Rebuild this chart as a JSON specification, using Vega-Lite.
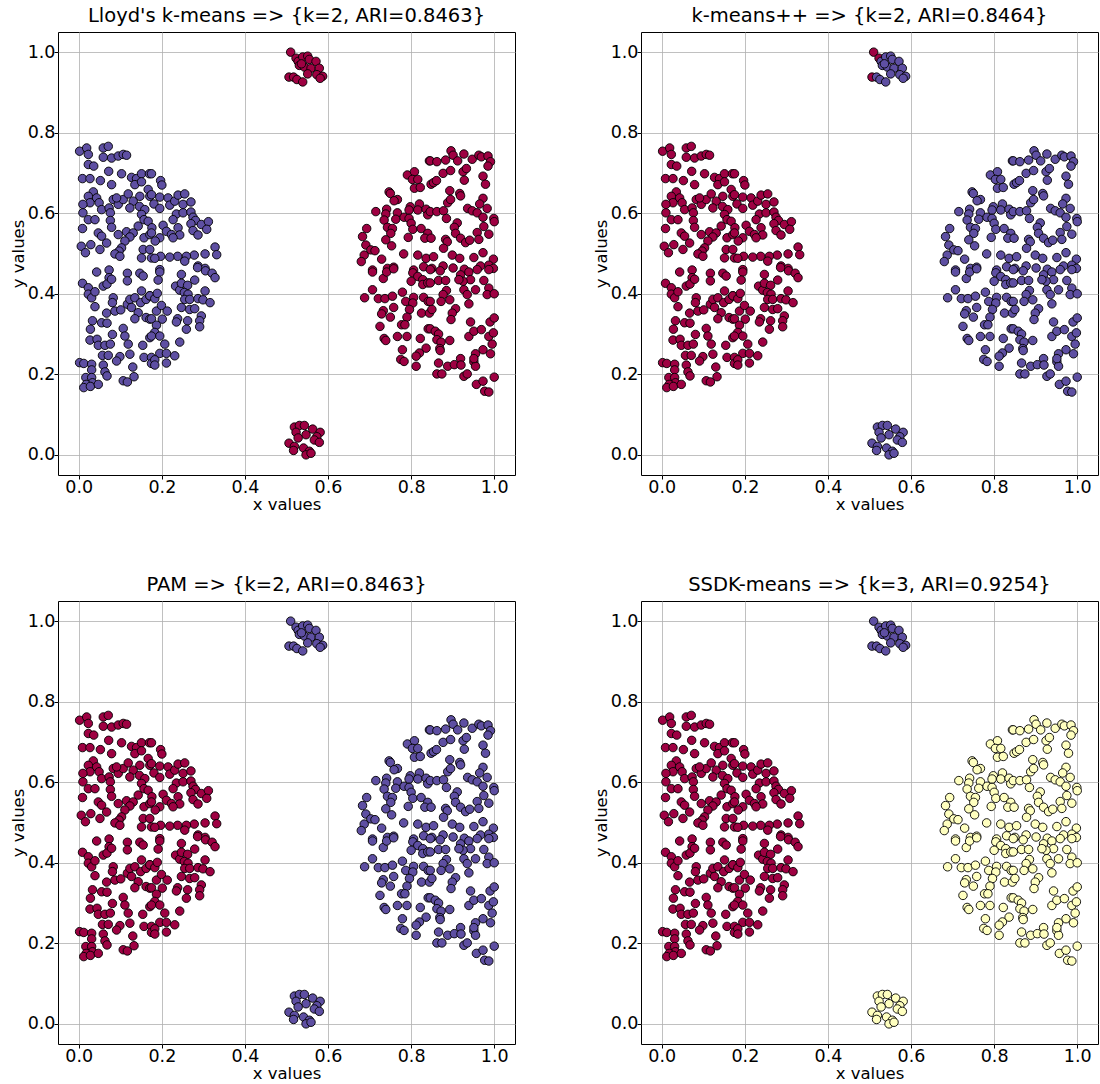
{
"$schema": "https://vega.github.io/schema/vega-lite/v6.json",
"background": "white",
"padding": {"left": 9, "top": 5, "right": 0, "bottom": 0},
"data": {"values": [
{"x":0.002,"y":0.754,"g":"L"},{"x":0.019,"y":0.762,"g":"L"},{"x":0.023,"y":0.746,"g":"L"},{"x":0.059,"y":0.762,"g":"L"},{"x":0.071,"y":0.766,"g":"L"},{"x":0.059,"y":0.739,"g":"L"},{"x":0.079,"y":0.737,"g":"L"},{"x":0.095,"y":0.742,"g":"L"},{"x":0.107,"y":0.746,"g":"L"},{"x":0.115,"y":0.744,"g":"L"},
{"x":0.023,"y":0.721,"g":"L"},{"x":0.036,"y":0.717,"g":"L"},{"x":0.009,"y":0.686,"g":"L"},{"x":0.027,"y":0.686,"g":"L"},{"x":0.052,"y":0.681,"g":"L"},{"x":0.072,"y":0.704,"g":"L"},{"x":0.079,"y":0.671,"g":"L"},{"x":0.103,"y":0.698,"g":"L"},{"x":0.127,"y":0.689,"g":"L"},{"x":0.139,"y":0.686,"g":"L"},
{"x":0.135,"y":0.671,"g":"L"},{"x":0.151,"y":0.698,"g":"L"},{"x":0.151,"y":0.678,"g":"L"},{"x":0.170,"y":0.698,"g":"L"},{"x":0.167,"y":0.659,"g":"L"},{"x":0.035,"y":0.653,"g":"L"},{"x":0.023,"y":0.642,"g":"L"},{"x":0.043,"y":0.638,"g":"L"},{"x":0.027,"y":0.626,"g":"L"},{"x":0.010,"y":0.622,"g":"L"},
{"x":0.049,"y":0.626,"g":"L"},{"x":0.055,"y":0.609,"g":"L"},{"x":0.073,"y":0.613,"g":"L"},{"x":0.083,"y":0.634,"g":"L"},{"x":0.095,"y":0.622,"g":"L"},{"x":0.107,"y":0.634,"g":"L"},{"x":0.119,"y":0.648,"g":"L"},{"x":0.131,"y":0.630,"g":"L"},{"x":0.123,"y":0.613,"g":"L"},{"x":0.091,"y":0.638,"g":"L"},
{"x":0.147,"y":0.642,"g":"L"},{"x":0.146,"y":0.617,"g":"L"},{"x":0.159,"y":0.609,"g":"L"},{"x":0.171,"y":0.642,"g":"L"},{"x":0.010,"y":0.601,"g":"L"},{"x":0.023,"y":0.584,"g":"L"},{"x":0.039,"y":0.584,"g":"L"},{"x":0.076,"y":0.601,"g":"L"},{"x":0.076,"y":0.582,"g":"L"},{"x":0.079,"y":0.565,"g":"L"},
{"x":0.151,"y":0.597,"g":"L"},{"x":0.157,"y":0.584,"g":"L"},{"x":0.167,"y":0.580,"g":"L"},{"x":0.009,"y":0.562,"g":"L"},{"x":0.047,"y":0.551,"g":"L"},{"x":0.055,"y":0.543,"g":"L"},{"x":0.095,"y":0.547,"g":"L"},{"x":0.115,"y":0.554,"g":"L"},{"x":0.143,"y":0.568,"g":"L"},{"x":0.131,"y":0.551,"g":"L"},
{"x":0.123,"y":0.541,"g":"L"},{"x":0.111,"y":0.531,"g":"L"},{"x":0.103,"y":0.514,"g":"L"},{"x":0.097,"y":0.506,"g":"L"},{"x":0.087,"y":0.499,"g":"L"},{"x":0.099,"y":0.493,"g":"L"},{"x":0.067,"y":0.526,"g":"L"},{"x":0.006,"y":0.518,"g":"L"},{"x":0.016,"y":0.502,"g":"L"},{"x":0.029,"y":0.522,"g":"L"},
{"x":0.051,"y":0.510,"g":"L"},{"x":0.157,"y":0.539,"g":"L"},{"x":0.171,"y":0.547,"g":"L"},{"x":0.155,"y":0.510,"g":"L"},{"x":0.171,"y":0.510,"g":"L"},{"x":0.151,"y":0.489,"g":"L"},{"x":0.175,"y":0.489,"g":"L"},
{"x":0.175,"y":0.698,"g":"L"},{"x":0.197,"y":0.681,"g":"L"},{"x":0.200,"y":0.670,"g":"L"},{"x":0.175,"y":0.646,"g":"L"},{"x":0.195,"y":0.640,"g":"L"},{"x":0.181,"y":0.623,"g":"L"},{"x":0.195,"y":0.612,"g":"L"},{"x":0.215,"y":0.638,"g":"L"},{"x":0.219,"y":0.620,"g":"L"},{"x":0.231,"y":0.630,"g":"L"},
{"x":0.239,"y":0.645,"g":"L"},{"x":0.255,"y":0.648,"g":"L"},{"x":0.251,"y":0.622,"g":"L"},{"x":0.270,"y":0.628,"g":"L"},{"x":0.235,"y":0.598,"g":"L"},{"x":0.251,"y":0.601,"g":"L"},{"x":0.270,"y":0.603,"g":"L"},{"x":0.275,"y":0.590,"g":"L"},{"x":0.281,"y":0.582,"g":"L"},{"x":0.227,"y":0.584,"g":"L"},
{"x":0.270,"y":0.574,"g":"L"},{"x":0.295,"y":0.572,"g":"L"},{"x":0.312,"y":0.579,"g":"L"},{"x":0.308,"y":0.560,"g":"L"},{"x":0.275,"y":0.557,"g":"L"},{"x":0.287,"y":0.546,"g":"L"},{"x":0.203,"y":0.570,"g":"L"},{"x":0.211,"y":0.555,"g":"L"},{"x":0.223,"y":0.547,"g":"L"},{"x":0.239,"y":0.564,"g":"L"},
{"x":0.243,"y":0.546,"g":"L"},{"x":0.227,"y":0.539,"g":"L"},{"x":0.176,"y":0.564,"g":"L"},{"x":0.175,"y":0.551,"g":"L"},{"x":0.195,"y":0.539,"g":"L"},{"x":0.184,"y":0.531,"g":"L"},{"x":0.328,"y":0.516,"g":"L"},{"x":0.332,"y":0.497,"g":"L"},{"x":0.304,"y":0.499,"g":"L"},{"x":0.278,"y":0.496,"g":"L"},
{"x":0.259,"y":0.493,"g":"L"},{"x":0.255,"y":0.481,"g":"L"},{"x":0.238,"y":0.493,"g":"L"},{"x":0.219,"y":0.491,"g":"L"},{"x":0.197,"y":0.493,"g":"L"},{"x":0.183,"y":0.488,"g":"L"},{"x":0.287,"y":0.469,"g":"L"},{"x":0.304,"y":0.463,"g":"L"},{"x":0.195,"y":0.460,"g":"L"},
{"x":0.043,"y":0.454,"g":"L"},{"x":0.073,"y":0.459,"g":"L"},{"x":0.073,"y":0.440,"g":"L"},{"x":0.117,"y":0.451,"g":"L"},{"x":0.117,"y":0.432,"g":"L"},{"x":0.147,"y":0.451,"g":"L"},{"x":0.155,"y":0.444,"g":"L"},{"x":0.009,"y":0.426,"g":"L"},{"x":0.023,"y":0.415,"g":"L"},{"x":0.023,"y":0.399,"g":"L"},
{"x":0.031,"y":0.390,"g":"L"},{"x":0.039,"y":0.405,"g":"L"},{"x":0.059,"y":0.419,"g":"L"},{"x":0.068,"y":0.424,"g":"L"},{"x":0.079,"y":0.436,"g":"L"},{"x":0.083,"y":0.390,"g":"L"},{"x":0.081,"y":0.378,"g":"L"},{"x":0.039,"y":0.368,"g":"L"},{"x":0.067,"y":0.352,"g":"L"},{"x":0.087,"y":0.357,"g":"L"},
{"x":0.101,"y":0.360,"g":"L"},{"x":0.117,"y":0.374,"g":"L"},{"x":0.123,"y":0.386,"g":"L"},{"x":0.135,"y":0.390,"g":"L"},{"x":0.151,"y":0.407,"g":"L"},{"x":0.149,"y":0.378,"g":"L"},{"x":0.162,"y":0.386,"g":"L"},{"x":0.171,"y":0.395,"g":"L"},{"x":0.127,"y":0.366,"g":"L"},{"x":0.143,"y":0.353,"g":"L"},
{"x":0.135,"y":0.338,"g":"L"},{"x":0.162,"y":0.341,"g":"L"},{"x":0.171,"y":0.337,"g":"L"},{"x":0.033,"y":0.333,"g":"L"},{"x":0.028,"y":0.312,"g":"L"},{"x":0.055,"y":0.328,"g":"L"},{"x":0.068,"y":0.327,"g":"L"},{"x":0.107,"y":0.314,"g":"L"},{"x":0.081,"y":0.299,"g":"L"},{"x":0.111,"y":0.295,"g":"L"},
{"x":0.027,"y":0.285,"g":"L"},{"x":0.044,"y":0.287,"g":"L"},{"x":0.047,"y":0.272,"g":"L"},{"x":0.063,"y":0.272,"g":"L"},{"x":0.076,"y":0.275,"g":"L"},{"x":0.119,"y":0.275,"g":"L"},{"x":0.154,"y":0.272,"g":"L"},{"x":0.171,"y":0.291,"g":"L"},{"x":0.057,"y":0.247,"g":"L"},{"x":0.071,"y":0.247,"g":"L"},
{"x":0.099,"y":0.244,"g":"L"},{"x":0.091,"y":0.233,"g":"L"},{"x":0.123,"y":0.250,"g":"L"},{"x":0.157,"y":0.242,"g":"L"},{"x":0.175,"y":0.242,"g":"L"},{"x":0.175,"y":0.227,"g":"L"},{"x":0.002,"y":0.229,"g":"L"},{"x":0.012,"y":0.227,"g":"L"},{"x":0.031,"y":0.225,"g":"L"},{"x":0.059,"y":0.223,"g":"L"},
{"x":0.130,"y":0.218,"g":"L"},{"x":0.063,"y":0.206,"g":"L"},{"x":0.068,"y":0.196,"g":"L"},{"x":0.031,"y":0.211,"g":"L"},{"x":0.017,"y":0.192,"g":"L"},{"x":0.031,"y":0.192,"g":"L"},{"x":0.033,"y":0.179,"g":"L"},{"x":0.018,"y":0.175,"g":"L"},{"x":0.012,"y":0.167,"g":"L"},{"x":0.028,"y":0.170,"g":"L"},
{"x":0.047,"y":0.175,"g":"L"},{"x":0.107,"y":0.184,"g":"L"},{"x":0.117,"y":0.181,"g":"L"},{"x":0.133,"y":0.194,"g":"L"},
{"x":0.195,"y":0.454,"g":"L"},{"x":0.191,"y":0.434,"g":"L"},{"x":0.247,"y":0.448,"g":"L"},{"x":0.286,"y":0.465,"g":"L"},{"x":0.305,"y":0.457,"g":"L"},{"x":0.321,"y":0.451,"g":"L"},{"x":0.328,"y":0.440,"g":"L"},{"x":0.279,"y":0.434,"g":"L"},{"x":0.233,"y":0.419,"g":"L"},{"x":0.243,"y":0.409,"g":"L"},
{"x":0.247,"y":0.426,"g":"L"},{"x":0.262,"y":0.421,"g":"L"},{"x":0.254,"y":0.403,"g":"L"},{"x":0.263,"y":0.399,"g":"L"},{"x":0.255,"y":0.386,"g":"L"},{"x":0.267,"y":0.386,"g":"L"},{"x":0.304,"y":0.407,"g":"L"},{"x":0.287,"y":0.388,"g":"L"},{"x":0.299,"y":0.385,"g":"L"},{"x":0.316,"y":0.378,"g":"L"},
{"x":0.247,"y":0.366,"g":"L"},{"x":0.267,"y":0.361,"g":"L"},{"x":0.279,"y":0.363,"g":"L"},{"x":0.295,"y":0.345,"g":"L"},{"x":0.291,"y":0.333,"g":"L"},{"x":0.291,"y":0.318,"g":"L"},{"x":0.262,"y":0.333,"g":"L"},{"x":0.259,"y":0.312,"g":"L"},{"x":0.238,"y":0.338,"g":"L"},{"x":0.235,"y":0.330,"g":"L"},
{"x":0.243,"y":0.280,"g":"L"},{"x":0.171,"y":0.395,"g":"L"},{"x":0.183,"y":0.388,"g":"L"},{"x":0.189,"y":0.401,"g":"L"},{"x":0.187,"y":0.357,"g":"L"},{"x":0.199,"y":0.371,"g":"L"},{"x":0.213,"y":0.357,"g":"L"},{"x":0.201,"y":0.337,"g":"L"},{"x":0.175,"y":0.338,"g":"L"},{"x":0.187,"y":0.322,"g":"L"},
{"x":0.183,"y":0.304,"g":"L"},{"x":0.195,"y":0.295,"g":"L"},{"x":0.207,"y":0.275,"g":"L"},{"x":0.175,"y":0.295,"g":"L"},{"x":0.195,"y":0.252,"g":"L"},{"x":0.211,"y":0.252,"g":"L"},{"x":0.231,"y":0.246,"g":"L"},{"x":0.183,"y":0.236,"g":"L"},{"x":0.183,"y":0.223,"g":"L"},{"x":0.211,"y":0.228,"g":"L"},
{"x":0.844,"y":0.730,"g":"R"},{"x":0.791,"y":0.695,"g":"R"},{"x":0.808,"y":0.703,"g":"R"},{"x":0.803,"y":0.684,"g":"R"},{"x":0.816,"y":0.684,"g":"R"},{"x":0.808,"y":0.662,"g":"R"},{"x":0.822,"y":0.664,"g":"R"},{"x":0.848,"y":0.672,"g":"R"},{"x":0.747,"y":0.653,"g":"R"},{"x":0.750,"y":0.649,"g":"R"},
{"x":0.767,"y":0.634,"g":"R"},{"x":0.759,"y":0.631,"g":"R"},{"x":0.715,"y":0.604,"g":"R"},{"x":0.741,"y":0.610,"g":"R"},{"x":0.739,"y":0.598,"g":"R"},{"x":0.735,"y":0.583,"g":"R"},{"x":0.767,"y":0.601,"g":"R"},{"x":0.763,"y":0.585,"g":"R"},{"x":0.783,"y":0.590,"g":"R"},{"x":0.798,"y":0.616,"g":"R"},
{"x":0.795,"y":0.608,"g":"R"},{"x":0.820,"y":0.623,"g":"R"},{"x":0.816,"y":0.608,"g":"R"},{"x":0.836,"y":0.610,"g":"R"},{"x":0.840,"y":0.596,"g":"R"},{"x":0.795,"y":0.587,"g":"R"},{"x":0.800,"y":0.575,"g":"R"},{"x":0.693,"y":0.562,"g":"R"},{"x":0.743,"y":0.565,"g":"R"},{"x":0.755,"y":0.562,"g":"R"},
{"x":0.751,"y":0.550,"g":"R"},{"x":0.683,"y":0.542,"g":"R"},{"x":0.804,"y":0.560,"g":"R"},{"x":0.824,"y":0.562,"g":"R"},{"x":0.840,"y":0.550,"g":"R"},{"x":0.833,"y":0.538,"g":"R"},{"x":0.793,"y":0.540,"g":"R"},{"x":0.739,"y":0.534,"g":"R"},{"x":0.753,"y":0.519,"g":"R"},{"x":0.691,"y":0.521,"g":"R"},
{"x":0.703,"y":0.509,"g":"R"},{"x":0.713,"y":0.507,"g":"R"},{"x":0.687,"y":0.496,"g":"R"},{"x":0.680,"y":0.480,"g":"R"},{"x":0.729,"y":0.486,"g":"R"},{"x":0.782,"y":0.499,"g":"R"},{"x":0.816,"y":0.496,"g":"R"},{"x":0.836,"y":0.488,"g":"R"},{"x":0.707,"y":0.459,"g":"R"},{"x":0.743,"y":0.463,"g":"R"},
{"x":0.758,"y":0.466,"g":"R"},{"x":0.830,"y":0.467,"g":"R"},{"x":0.806,"y":0.459,"g":"R"},
{"x":0.846,"y":0.730,"g":"R"},{"x":0.862,"y":0.728,"g":"R"},{"x":0.883,"y":0.732,"g":"R"},{"x":0.896,"y":0.755,"g":"R"},{"x":0.901,"y":0.744,"g":"R"},{"x":0.912,"y":0.730,"g":"R"},{"x":0.927,"y":0.747,"g":"R"},{"x":0.947,"y":0.734,"g":"R"},{"x":0.963,"y":0.744,"g":"R"},{"x":0.969,"y":0.740,"g":"R"},
{"x":0.985,"y":0.742,"g":"R"},{"x":0.991,"y":0.728,"g":"R"},{"x":0.985,"y":0.717,"g":"R"},{"x":0.877,"y":0.699,"g":"R"},{"x":0.895,"y":0.706,"g":"R"},{"x":0.925,"y":0.703,"g":"R"},{"x":0.933,"y":0.711,"g":"R"},{"x":0.928,"y":0.682,"g":"R"},{"x":0.973,"y":0.692,"g":"R"},{"x":0.979,"y":0.672,"g":"R"},
{"x":0.854,"y":0.676,"g":"R"},{"x":0.861,"y":0.681,"g":"R"},{"x":0.893,"y":0.656,"g":"R"},{"x":0.917,"y":0.649,"g":"R"},{"x":0.919,"y":0.643,"g":"R"},{"x":0.888,"y":0.626,"g":"R"},{"x":0.895,"y":0.634,"g":"R"},{"x":0.973,"y":0.637,"g":"R"},{"x":0.965,"y":0.623,"g":"R"},{"x":0.983,"y":0.612,"g":"R"},
{"x":0.936,"y":0.612,"g":"R"},{"x":0.947,"y":0.606,"g":"R"},{"x":0.959,"y":0.601,"g":"R"},{"x":0.973,"y":0.590,"g":"R"},{"x":0.999,"y":0.587,"g":"R"},{"x":1.0,"y":0.579,"g":"R"},{"x":0.846,"y":0.604,"g":"R"},{"x":0.862,"y":0.604,"g":"R"},{"x":0.878,"y":0.606,"g":"R"},{"x":0.885,"y":0.587,"g":"R"},
{"x":0.911,"y":0.576,"g":"R"},{"x":0.904,"y":0.565,"g":"R"},{"x":0.975,"y":0.567,"g":"R"},{"x":0.959,"y":0.552,"g":"R"},{"x":0.987,"y":0.548,"g":"R"},{"x":0.848,"y":0.538,"g":"R"},{"x":0.883,"y":0.535,"g":"R"},{"x":0.887,"y":0.529,"g":"R"},{"x":0.907,"y":0.550,"g":"R"},{"x":0.919,"y":0.538,"g":"R"},
{"x":0.931,"y":0.527,"g":"R"},{"x":0.941,"y":0.533,"g":"R"},{"x":0.963,"y":0.535,"g":"R"},{"x":0.878,"y":0.513,"g":"R"},{"x":0.899,"y":0.496,"g":"R"},{"x":0.917,"y":0.488,"g":"R"},{"x":0.854,"y":0.492,"g":"R"},{"x":0.951,"y":0.490,"g":"R"},{"x":0.973,"y":0.502,"g":"R"},{"x":0.998,"y":0.486,"g":"R"},
{"x":0.987,"y":0.471,"g":"R"},{"x":0.967,"y":0.469,"g":"R"},{"x":0.850,"y":0.463,"g":"R"},{"x":0.877,"y":0.469,"g":"R"},{"x":0.928,"y":0.461,"g":"R"},{"x":0.998,"y":0.463,"g":"R"},
{"x":0.707,"y":0.454,"g":"R"},{"x":0.733,"y":0.438,"g":"R"},{"x":0.741,"y":0.454,"g":"R"},{"x":0.758,"y":0.462,"g":"R"},{"x":0.804,"y":0.452,"g":"R"},{"x":0.816,"y":0.443,"g":"R"},{"x":0.800,"y":0.431,"g":"R"},{"x":0.828,"y":0.435,"g":"R"},{"x":0.828,"y":0.423,"g":"R"},{"x":0.840,"y":0.427,"g":"R"},
{"x":0.707,"y":0.410,"g":"R"},{"x":0.688,"y":0.390,"g":"R"},{"x":0.721,"y":0.388,"g":"R"},{"x":0.737,"y":0.388,"g":"R"},{"x":0.755,"y":0.394,"g":"R"},{"x":0.779,"y":0.404,"g":"R"},{"x":0.787,"y":0.381,"g":"R"},{"x":0.806,"y":0.391,"g":"R"},{"x":0.804,"y":0.377,"g":"R"},{"x":0.830,"y":0.391,"g":"R"},
{"x":0.841,"y":0.381,"g":"R"},{"x":0.758,"y":0.366,"g":"R"},{"x":0.733,"y":0.358,"g":"R"},{"x":0.729,"y":0.350,"g":"R"},{"x":0.750,"y":0.342,"g":"R"},{"x":0.796,"y":0.361,"g":"R"},{"x":0.790,"y":0.342,"g":"R"},{"x":0.825,"y":0.352,"g":"R"},{"x":0.844,"y":0.352,"g":"R"},{"x":0.725,"y":0.319,"g":"R"},
{"x":0.777,"y":0.323,"g":"R"},{"x":0.785,"y":0.323,"g":"R"},{"x":0.735,"y":0.289,"g":"R"},{"x":0.739,"y":0.284,"g":"R"},{"x":0.767,"y":0.294,"g":"R"},{"x":0.790,"y":0.294,"g":"R"},{"x":0.822,"y":0.289,"g":"R"},{"x":0.841,"y":0.313,"g":"R"},{"x":0.836,"y":0.265,"g":"R"},{"x":0.820,"y":0.253,"g":"R"},
{"x":0.812,"y":0.245,"g":"R"},{"x":0.779,"y":0.261,"g":"R"},{"x":0.775,"y":0.237,"g":"R"},{"x":0.783,"y":0.232,"g":"R"},{"x":0.812,"y":0.220,"g":"R"},
{"x":0.846,"y":0.460,"g":"R"},{"x":0.870,"y":0.457,"g":"R"},{"x":0.901,"y":0.464,"g":"R"},{"x":0.919,"y":0.447,"g":"R"},{"x":0.939,"y":0.454,"g":"R"},{"x":0.943,"y":0.435,"g":"R"},{"x":0.925,"y":0.431,"g":"R"},{"x":0.915,"y":0.435,"g":"R"},{"x":0.927,"y":0.410,"g":"R"},{"x":0.935,"y":0.398,"g":"R"},
{"x":0.955,"y":0.410,"g":"R"},{"x":0.959,"y":0.460,"g":"R"},{"x":0.987,"y":0.460,"g":"R"},{"x":0.975,"y":0.433,"g":"R"},{"x":0.987,"y":0.414,"g":"R"},{"x":0.983,"y":0.398,"g":"R"},{"x":1.0,"y":0.400,"g":"R"},{"x":0.846,"y":0.427,"g":"R"},{"x":0.866,"y":0.433,"g":"R"},{"x":0.883,"y":0.433,"g":"R"},
{"x":0.885,"y":0.408,"g":"R"},{"x":0.877,"y":0.398,"g":"R"},{"x":0.893,"y":0.385,"g":"R"},{"x":0.872,"y":0.381,"g":"R"},{"x":0.846,"y":0.381,"g":"R"},{"x":0.850,"y":0.361,"g":"R"},{"x":0.907,"y":0.363,"g":"R"},{"x":0.899,"y":0.352,"g":"R"},{"x":0.896,"y":0.336,"g":"R"},{"x":0.939,"y":0.375,"g":"R"},
{"x":0.943,"y":0.330,"g":"R"},{"x":0.990,"y":0.330,"g":"R"},{"x":1.0,"y":0.340,"g":"R"},{"x":0.846,"y":0.313,"g":"R"},{"x":0.858,"y":0.307,"g":"R"},{"x":0.866,"y":0.300,"g":"R"},{"x":0.939,"y":0.294,"g":"R"},{"x":0.951,"y":0.307,"g":"R"},{"x":0.969,"y":0.311,"g":"R"},{"x":0.987,"y":0.294,"g":"R"},
{"x":0.998,"y":0.303,"g":"R"},{"x":0.995,"y":0.275,"g":"R"},{"x":0.862,"y":0.286,"g":"R"},{"x":0.872,"y":0.280,"g":"R"},{"x":0.893,"y":0.284,"g":"R"},{"x":0.869,"y":0.264,"g":"R"},{"x":0.870,"y":0.259,"g":"R"},{"x":0.973,"y":0.261,"g":"R"},{"x":0.955,"y":0.251,"g":"R"},{"x":0.991,"y":0.251,"g":"R"},
{"x":0.951,"y":0.231,"g":"R"},{"x":0.955,"y":0.220,"g":"R"},{"x":0.951,"y":0.239,"g":"R"},{"x":0.866,"y":0.228,"g":"R"},{"x":0.888,"y":0.220,"g":"R"},{"x":0.904,"y":0.224,"g":"R"},{"x":0.919,"y":0.239,"g":"R"},{"x":0.920,"y":0.223,"g":"R"},{"x":0.862,"y":0.201,"g":"R"},{"x":0.874,"y":0.201,"g":"R"},
{"x":0.927,"y":0.195,"g":"R"},{"x":0.935,"y":0.201,"g":"R"},{"x":0.957,"y":0.175,"g":"R"},{"x":0.973,"y":0.183,"g":"R"},{"x":0.977,"y":0.158,"g":"R"},{"x":0.987,"y":0.156,"g":"R"},{"x":1.0,"y":0.193,"g":"R"},
{"x":0.510,"y":1.0,"g":"K"},{"x":0.523,"y":0.985,"g":"K"},{"x":0.528,"y":0.977,"g":"T"},{"x":0.539,"y":0.988,"g":"T"},{"x":0.551,"y":0.990,"g":"T"},{"x":0.555,"y":0.982,"g":"T"},{"x":0.531,"y":0.967,"g":"T"},{"x":0.543,"y":0.963,"g":"T"},{"x":0.559,"y":0.960,"g":"T"},{"x":0.571,"y":0.977,"g":"T"},
{"x":0.579,"y":0.960,"g":"T"},{"x":0.573,"y":0.944,"g":"T"},{"x":0.587,"y":0.940,"g":"T"},{"x":0.581,"y":0.935,"g":"T"},{"x":0.506,"y":0.938,"g":"K"},{"x":0.517,"y":0.938,"g":"T"},{"x":0.525,"y":0.932,"g":"T"},{"x":0.539,"y":0.926,"g":"T"},{"x":0.551,"y":0.946,"g":"T"},{"x":0.536,"y":0.971,"g":"T"},
{"x":0.519,"y":0.069,"g":"B"},{"x":0.531,"y":0.073,"g":"B"},{"x":0.543,"y":0.073,"g":"B"},{"x":0.523,"y":0.056,"g":"B"},{"x":0.547,"y":0.050,"g":"B"},{"x":0.528,"y":0.042,"g":"B"},{"x":0.563,"y":0.064,"g":"B"},{"x":0.581,"y":0.056,"g":"B"},{"x":0.573,"y":0.045,"g":"B"},{"x":0.567,"y":0.037,"g":"B"},
{"x":0.579,"y":0.031,"g":"B"},{"x":0.506,"y":0.029,"g":"B"},{"x":0.519,"y":0.021,"g":"B"},{"x":0.517,"y":0.011,"g":"B"},{"x":0.541,"y":0.017,"g":"B"},{"x":0.555,"y":0.009,"g":"B"},{"x":0.547,"y":0.0,"g":"B"},{"x":0.559,"y":0.004,"g":"B"}
]},
"columns": 2,
"spacing": {"row": 60, "column": 76},
"resolve": {"scale": {"color": "independent"}},
"concat": [
{"title": "Lloyd's k-means => {k=2, ARI=0.8463}", "width": 457, "height": 443,
 "mark": {"type": "circle", "size": 72, "stroke": "black", "strokeWidth": 0.9, "opacity": 1},
 "encoding": {
  "x": {"field": "x", "type": "quantitative", "scale": {"domain": [-0.05, 1.05], "nice": false, "zero": false}, "axis": {"values": [0, 0.2, 0.4, 0.6, 0.8, 1], "format": ".1f", "title": "x values"}},
  "y": {"field": "y", "type": "quantitative", "scale": {"domain": [-0.05, 1.05], "nice": false, "zero": false}, "axis": {"values": [0, 0.2, 0.4, 0.6, 0.8, 1], "format": ".1f", "title": "y values"}},
  "color": {"field": "g", "type": "nominal", "scale": {"domain": ["L", "R", "T", "K", "B"], "range": ["#5e4fa2", "#9e0142", "#9e0142", "#9e0142", "#9e0142"]}, "legend": null}}},
{"title": "k-means++ => {k=2, ARI=0.8464}", "width": 457, "height": 443,
 "mark": {"type": "circle", "size": 72, "stroke": "black", "strokeWidth": 0.9, "opacity": 1},
 "encoding": {
  "x": {"field": "x", "type": "quantitative", "scale": {"domain": [-0.05, 1.05], "nice": false, "zero": false}, "axis": {"values": [0, 0.2, 0.4, 0.6, 0.8, 1], "format": ".1f", "title": "x values"}},
  "y": {"field": "y", "type": "quantitative", "scale": {"domain": [-0.05, 1.05], "nice": false, "zero": false}, "axis": {"values": [0, 0.2, 0.4, 0.6, 0.8, 1], "format": ".1f", "title": "y values"}},
  "color": {"field": "g", "type": "nominal", "scale": {"domain": ["L", "R", "T", "K", "B"], "range": ["#9e0142", "#5e4fa2", "#5e4fa2", "#9e0142", "#5e4fa2"]}, "legend": null}}},
{"title": "PAM => {k=2, ARI=0.8463}", "width": 457, "height": 443,
 "mark": {"type": "circle", "size": 72, "stroke": "black", "strokeWidth": 0.9, "opacity": 1},
 "encoding": {
  "x": {"field": "x", "type": "quantitative", "scale": {"domain": [-0.05, 1.05], "nice": false, "zero": false}, "axis": {"values": [0, 0.2, 0.4, 0.6, 0.8, 1], "format": ".1f", "title": "x values"}},
  "y": {"field": "y", "type": "quantitative", "scale": {"domain": [-0.05, 1.05], "nice": false, "zero": false}, "axis": {"values": [0, 0.2, 0.4, 0.6, 0.8, 1], "format": ".1f", "title": "y values"}},
  "color": {"field": "g", "type": "nominal", "scale": {"domain": ["L", "R", "T", "K", "B"], "range": ["#9e0142", "#5e4fa2", "#5e4fa2", "#5e4fa2", "#5e4fa2"]}, "legend": null}}},
{"title": "SSDK-means => {k=3, ARI=0.9254}", "width": 457, "height": 443,
 "mark": {"type": "circle", "size": 72, "stroke": "black", "strokeWidth": 0.9, "opacity": 1},
 "encoding": {
  "x": {"field": "x", "type": "quantitative", "scale": {"domain": [-0.05, 1.05], "nice": false, "zero": false}, "axis": {"values": [0, 0.2, 0.4, 0.6, 0.8, 1], "format": ".1f", "title": "x values"}},
  "y": {"field": "y", "type": "quantitative", "scale": {"domain": [-0.05, 1.05], "nice": false, "zero": false}, "axis": {"values": [0, 0.2, 0.4, 0.6, 0.8, 1], "format": ".1f", "title": "y values"}},
  "color": {"field": "g", "type": "nominal", "scale": {"domain": ["L", "R", "T", "K", "B"], "range": ["#9e0142", "#ffffbf", "#5e4fa2", "#5e4fa2", "#ffffbf"]}, "legend": null}}}
],
"config": {
 "font": "DejaVu Sans",
 "view": {"stroke": "black", "strokeWidth": 1},
 "title": {"fontSize": 19.5, "fontWeight": "normal", "color": "black", "offset": 6},
 "axis": {"labelFontSize": 17.5, "titleFontSize": 16.5, "titleFontWeight": "normal", "labelColor": "black", "titleColor": "black", "gridColor": "#b0b0b0", "gridWidth": 0.8, "tickColor": "black", "tickSize": 4, "domain": false, "labelPadding": -1, "titlePadding": 1, "labelFlush": false}
}
}
